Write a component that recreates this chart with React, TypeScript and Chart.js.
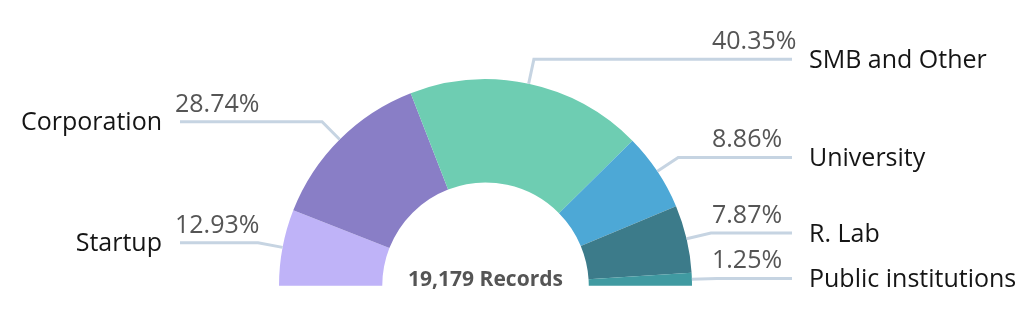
import React, { useEffect, useRef } from "react";
import { Chart, registerables } from "chart.js";

Chart.register(...registerables);

const categories = ["Startup", "Corporation", "SMB and Other", "University", "R. Lab", "Public institutions"];
// arc sizes as drawn in the picture (share of the half circle, %)
const sliceValues = [11.9, 26.3, 37.0, 12.2, 10.6, 2.0];
// percentage labels as printed
const percentLabels = ["12.93%", "28.74%", "40.35%", "8.86%", "7.87%", "1.25%"];
const sliceColors = ["#bfb3f8", "#897ec6", "#6ecdb2", "#4da8d6", "#3c7b8a", "#409aa1"];
const centerText = "19,179 Records";

const FONT = "'Open Sans', 'Noto Sans', sans-serif";

const labelPlugin = {
  id: "outerLabels",
  afterDatasetsDraw(chart: any) {
    const ctx = chart.ctx as CanvasRenderingContext2D;
    const meta = chart.getDatasetMeta(0);
    const ext = 25;
    const leftLineX = 180;
    const rightLineX = 792;
    ctx.save();
    meta.data.forEach((arc: any, i: number) => {
      const { x, y, startAngle, endAngle, outerRadius } = arc.getProps(
        ["x", "y", "startAngle", "endAngle", "outerRadius"],
        true
      );
      const mid = (startAngle + endAngle) / 2;
      const c = Math.cos(mid);
      const s = Math.sin(mid);
      const x1 = x + outerRadius * c;
      const y1 = y + outerRadius * s;
      const x2 = x + (outerRadius + ext) * c;
      const y2 = y + (outerRadius + ext) * s;
      const right = c > 0;
      const x3 = right ? rightLineX : leftLineX;
      ctx.beginPath();
      ctx.moveTo(x1, y1);
      ctx.lineTo(x2, y2);
      ctx.lineTo(x3, y2);
      ctx.strokeStyle = "#c6d4e2";
      ctx.lineWidth = 3;
      ctx.lineJoin = "miter";
      ctx.stroke();

      ctx.font = `25px ${FONT}`;
      ctx.textBaseline = "alphabetic";
      // category label
      ctx.fillStyle = "#151515";
      if (right) {
        ctx.textAlign = "left";
        ctx.fillText(categories[i], x3 + 17, y2 + 8.5);
      } else {
        ctx.textAlign = "right";
        ctx.fillText(categories[i], x3 - 18, y2 + 8.5);
      }
      // percent label
      ctx.fillStyle = "#555555";
      ctx.textAlign = "left";
      const px = right ? x3 - 80 : x3 - 5;
      ctx.fillText(percentLabels[i], px, y2 - 10);
    });

    // center text
    const first = meta.data[0];
    if (first) {
      ctx.font = `bold 21px ${FONT}`;
      ctx.fillStyle = "#555555";
      ctx.textAlign = "center";
      ctx.textBaseline = "alphabetic";
      ctx.fillText(centerText, first.x, first.y);
    }
    ctx.restore();
  },
};

export default function App() {
  const ref = useRef<HTMLCanvasElement | null>(null);
  useEffect(() => {
    if (!ref.current) return;
    const chart = new Chart(ref.current, {
      type: "doughnut",
      data: {
        labels: categories,
        datasets: [
          {
            data: sliceValues,
            backgroundColor: sliceColors,
            borderWidth: 0,
            hoverOffset: 0,
          },
        ],
      },
      options: {
        responsive: false,
        animation: false,
        rotation: -90,
        circumference: 180,
        cutout: "50%",
        layout: { padding: { left: 279, right: 332, top: 79, bottom: 25 } },
        plugins: {
          legend: { display: false },
          tooltip: { enabled: false },
        },
      },
      plugins: [labelPlugin],
    });
    return () => chart.destroy();
  }, []);
  return (
    <div style={{ position: "absolute", left: 0, top: 0, width: 1024, height: 311, background: "#fff" }}>
      <canvas ref={ref} width={1024} height={311} style={{ display: "block" }} />
    </div>
  );
}
